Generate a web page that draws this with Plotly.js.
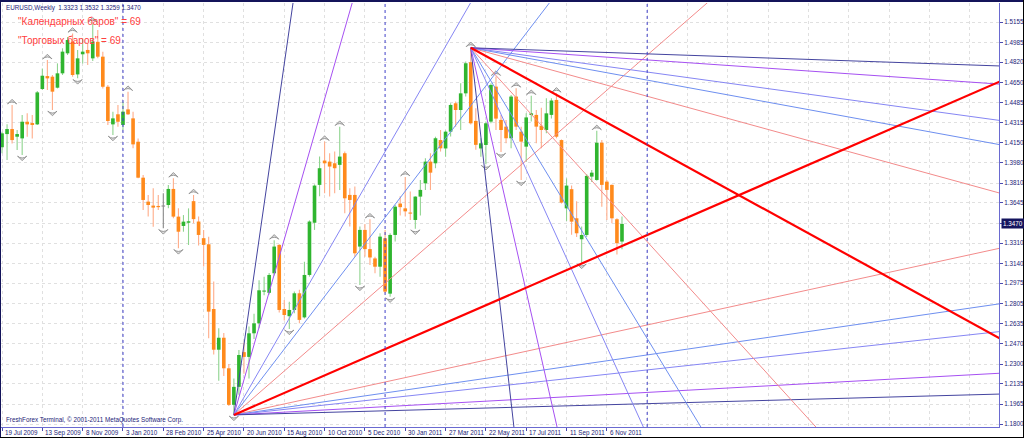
<!DOCTYPE html>
<html><head><meta charset="utf-8">
<script src="https://cdn.plot.ly/plotly-3.0.1.min.js"></script>
<style>html,body{margin:0;padding:0;background:#fff;overflow:hidden}#chart{width:1024px;height:438px}</style>
</head><body><div id="chart"></div>
<script>
// ---- weekly EURUSD candles, bar 0 = week of 19 Jul 2009 ----
const openP = [1.4110,1.4220,1.4262,1.4198,1.4184,1.4323,1.4312,1.4301,1.4596,1.4704,
1.4699,1.4607,1.4727,1.4894,1.4990,1.4718,1.4886,1.4922,1.4852,1.4990,
1.4866,1.4615,1.4301,1.4385,1.4296,1.4426,1.4351,1.4156,1.3856,1.3656,
1.3623,1.3620,1.3615,1.3628,1.3762,1.3531,1.3453,1.3480,1.3660,1.3490,
1.3351,1.3300,1.2760,1.2420,1.2520,1.2265,1.1960,1.2110,1.2400,1.2360,
1.2557,1.2640,1.2905,1.2895,1.3058,1.3295,1.2760,1.2700,1.2752,1.2891,
1.2690,1.3044,1.3480,1.3796,1.3999,1.3990,1.3976,1.3963,1.4060,1.3712,
1.3712,1.3281,1.3420,1.3260,1.3182,1.3113,1.3350,1.2888,1.3378,1.3640,
1.3600,1.3564,1.3503,1.3698,1.3809,1.3990,1.3976,1.4170,1.4100,1.4240,
1.4477,1.4421,1.4560,1.4820,1.4330,1.4100,1.4129,1.4324,1.4616,1.4338,
1.4282,1.4185,1.4533,1.4240,1.4115,1.4380,1.4380,1.4290,1.4254,1.4380,
1.4505,1.4170,1.3600,1.3760,1.3517,1.3342,1.3378,1.3865,1.3837,1.4148,
1.3823,1.3796,1.3509,1.3323];
const highP = [1.4240,1.4301,1.4462,1.4254,1.4379,1.4393,1.4379,1.4579,1.4768,1.4838,
1.4713,1.4810,1.4936,1.5030,1.5060,1.4922,1.5019,1.4977,1.5145,1.5089,
1.4908,1.4629,1.4407,1.4462,1.4490,1.4574,1.4407,1.4184,1.3879,1.3712,
1.3768,1.3712,1.3725,1.3795,1.3851,1.3600,1.3544,1.3600,1.3712,1.3531,
1.3420,1.3364,1.2990,1.2600,1.2560,1.2300,1.2180,1.2418,1.2480,1.2613,
1.2720,1.2999,1.3030,1.3060,1.3333,1.3300,1.2835,1.2821,1.2905,1.2920,
1.3155,1.3500,1.3800,1.4032,1.4157,1.4059,1.4074,1.4282,1.4074,1.3768,
1.3782,1.3448,1.3470,1.3510,1.3197,1.3392,1.3420,1.3392,1.3628,1.3700,
1.3862,1.3740,1.3700,1.3837,1.4018,1.4059,1.4198,1.4254,1.4250,1.4477,
1.4491,1.4644,1.4825,1.4940,1.4435,1.4185,1.4324,1.4644,1.4700,1.4380,
1.4338,1.4547,1.4602,1.4282,1.4393,1.4540,1.4420,1.4440,1.4519,1.4519,
1.4560,1.4175,1.3850,1.3790,1.3660,1.3448,1.3885,1.3920,1.4247,1.4170,
1.3837,1.3800,1.3517,1.3532];
const lowP = [1.4060,1.4003,1.4142,1.4087,1.4046,1.4198,1.4184,1.4296,1.4588,1.4588,
1.4421,1.4601,1.4713,1.4880,1.4699,1.4685,1.4810,1.4796,1.4830,1.4852,
1.4601,1.4296,1.4212,1.4282,1.4254,1.4379,1.4101,1.3851,1.3587,1.3531,
1.3447,1.3587,1.3433,1.3600,1.3517,1.3266,1.3405,1.3294,1.3475,1.3290,
1.3114,1.2516,1.2380,1.2160,1.2200,1.1950,1.1876,1.2045,1.2220,1.2180,
1.2510,1.2600,1.2874,1.2880,1.3040,1.2730,1.2663,1.2594,1.2724,1.2640,
1.2680,1.3030,1.3420,1.3700,1.3726,1.3698,1.3726,1.3754,1.3559,1.3448,
1.3197,1.2961,1.3197,1.3128,1.3058,1.3030,1.2891,1.2863,1.3323,1.3540,
1.3531,1.3503,1.3430,1.3540,1.3754,1.3754,1.3935,1.4074,1.4030,1.4200,
1.4282,1.4254,1.4533,1.4300,1.4090,1.4030,1.3968,1.4310,1.4254,1.4070,
1.4143,1.4101,1.4254,1.3837,1.3990,1.4324,1.4143,1.4101,1.4226,1.4350,
1.4185,1.3640,1.3495,1.3380,1.3360,1.3145,1.3360,1.3820,1.3830,1.3614,
1.3503,1.3475,1.3215,1.3259];
const closeP = [1.4226,1.4262,1.4170,1.4220,1.4323,1.4301,1.4296,1.4568,1.4707,1.4685,
1.4574,1.4727,1.4908,1.5005,1.4713,1.4852,1.4908,1.4894,1.4991,1.4866,
1.4615,1.4329,1.4351,1.4323,1.4407,1.4385,1.4134,1.3856,1.3670,1.3628,
1.3606,1.3610,1.3615,1.3762,1.3531,1.3405,1.3489,1.3492,1.3510,1.3378,
1.3295,1.2738,1.2420,1.2520,1.2265,1.1960,1.2110,1.2376,1.2360,1.2557,
1.2640,1.2916,1.2912,1.3044,1.3281,1.2752,1.2710,1.2752,1.2891,1.2669,
1.3044,1.3490,1.3790,1.3935,1.3976,1.3949,1.3935,1.4032,1.3684,1.3670,
1.3225,1.3420,1.3260,1.3190,1.3113,1.3364,1.2905,1.3378,1.3614,1.3610,
1.3575,1.3556,1.3698,1.3754,1.3990,1.3898,1.4185,1.4101,1.4240,1.4463,
1.4421,1.4560,1.4811,1.4310,1.4130,1.4143,1.4310,1.4630,1.4349,1.4254,
1.4185,1.4533,1.4282,1.4157,1.4359,1.4393,1.4282,1.4254,1.4393,1.4500,
1.4198,1.3648,1.3790,1.3489,1.3392,1.3378,1.3871,1.3898,1.4148,1.3796,
1.3754,1.3517,1.3309,1.3470];

// ---- axis labels ----
const timeTickBars = [0,8,16,24,32,40,48,56,64,72,80,88,96,104,112,120];
const timeTickLabels = ['19 Jul 2009','13 Sep 2009','8 Nov 2009','3 Jan 2010','28 Feb 2010','25 Apr 2010',
 '20 Jun 2010','15 Aug 2010','10 Oct 2010','5 Dec 2010','30 Jan 2011','27 Mar 2011','22 May 2011',
 '17 Jul 2011','11 Sep 2011','6 Nov 2011'];
const emptyGridBars = [128,136,144,152,160,168,176,184,192];
const priceTickVals = [1.1800,1.1965,1.2135,1.2300,1.2470,1.2635,1.2805,1.2975,1.3140,1.3310,1.3475,
 1.3645,1.3810,1.3980,1.4150,1.4315,1.4485,1.4650,1.4820,1.4985,1.5155];
const priceTickText = ['1.1800','1.1965','1.2135','1.2300','1.2470','1.2635','1.2805','1.2975','1.3140','1.3310','',
 '1.3645','1.3810','1.3980','1.4150','1.4315','1.4485','1.4650','1.4820','1.4985','1.5155'];

// ---- Bill Williams fractals ----
const fractalUpBars = [2,9,14,18,25,34,38,54,64,67,73,80,93,98,102,105,110,118];
const fractalDownBars = [4,10,15,22,32,35,46,57,71,77,82,96,99,103,115];

// ---- vertical separators ----
const separatorBars = [24,76,128];

// ---- Gann fans ----
const fanRatios = [16,8,4,3,2,1,1/2,1/3,1/4,1/8,1/16];
const fanColors = ['#44449f','#a650f2','#8686f4','#6e8ff0','#f38b8b','#ff0000','#f38b8b','#6e8ff0','#8686f4','#a650f2','#44449f'];
const fanWidths = [1,1,1,1,1,2.2,1,1,1,1,1];
const lowFanOrigin = [46, 1.1876];
const lowFanUnit = 0.001831;     // price per bar on the 1x1 line
const peakFanOrigin = [93, 1.4940];
const peakFanUnit = -0.002311;

const textLines = ['"Календарных баров" = 69', '"Торговых баров" = 69'];
const symbolTitle = 'EURUSD,Weekly';
const copyright = 'FreshForex Terminal, © 2001-2011 MetaQuotes Software Corp.';

// ================= build =================
const N = openP.length;
const idx = openP.map((_, i) => i);
const SMALL = 'Liberation Sans, Arial, sans-serif';
const SMALL_SIZE = 6.3;
const NAVY = '#1c1c78';
const GRID = '#e0e0e0';

const bullBody = '#2fb52f', bearBody = '#ff8a1c', dojiCol = '#8a8a8a';
const bullWick = '#8fd48f', bearWick = '#ffad8a';
const dirOf = i => closeP[i] > openP[i] ? 1 : (closeP[i] < openP[i] ? -1 : 0);

const traces = [];
traces.push({
  type: 'bar', x: idx, base: lowP, y: idx.map(i => highP[i] - lowP[i]), width: 0.22,
  marker: {color: idx.map(i => dirOf(i) > 0 ? bullWick : dirOf(i) < 0 ? bearWick : dojiCol), line: {width: 0}},
  hoverinfo: 'skip', showlegend: false
});
traces.push({
  type: 'bar', x: idx, base: idx.map(i => Math.min(openP[i], closeP[i])),
  y: idx.map(i => Math.max(Math.abs(closeP[i] - openP[i]), 0.0009)), width: 0.72,
  marker: {color: idx.map(i => dirOf(i) > 0 ? bullBody : dirOf(i) < 0 ? bearBody : dojiCol), line: {width: 0}},
  hoverinfo: 'skip', showlegend: false
});

// fractal arrows (arrowhead glyphs)
const FOFF = 0.0048;
traces.push({type: 'scatter', mode: 'markers', x: fractalUpBars, y: fractalUpBars.map(i => highP[i] + FOFF),
  marker: {symbol: 'arrow-wide', angle: 0, size: 6.5, color: '#dcdcdc', line: {color: '#8e8e8e', width: 0.9}},
  hoverinfo: 'skip', showlegend: false, cliponaxis: false});
traces.push({type: 'scatter', mode: 'markers', x: fractalDownBars, y: fractalDownBars.map(i => lowP[i] - FOFF),
  marker: {symbol: 'arrow-wide', angle: 180, size: 6.5, color: '#dcdcdc', line: {color: '#8e8e8e', width: 0.9}},
  hoverinfo: 'skip', showlegend: false, cliponaxis: false});

// gann fans (thin lines first, 1x1 on top)
const REACH = 400;
function addFan(origin, unit, thick) {
  fanRatios.forEach((r, k) => {
    if ((fanWidths[k] > 1.5) !== thick) return;
    traces.push({type: 'scatter', mode: 'lines', x: [origin[0], origin[0] + REACH],
      y: [origin[1], origin[1] + unit * r * REACH],
      line: {color: fanColors[k], width: fanWidths[k]}, hoverinfo: 'skip', showlegend: false});
  });
}
addFan(lowFanOrigin, lowFanUnit, false);
addFan(peakFanOrigin, peakFanUnit, false);
addFan(lowFanOrigin, lowFanUnit, true);
addFan(peakFanOrigin, peakFanUnit, true);

// geometry helpers for paper coords
const PLOT_L = 0, PLOT_R = 999, PLOT_T = 3, PLOT_B = 427;
const px2paperX = px => (px - PLOT_L) / (PLOT_R - PLOT_L);
const py2paperY = py => (PLOT_B - py) / (PLOT_B - PLOT_T);

const shapes = separatorBars.map(b => ({type: 'line', xref: 'x', yref: 'paper', x0: b, x1: b, y0: 0, y1: 1,
  line: {color: '#4040c8', width: 1, dash: 'dot'}, layer: 'above'}));
shapes.push({type: 'line', xref: 'paper', yref: 'paper', x0: px2paperX(0), x1: px2paperX(1024), y0: py2paperY(1), y1: py2paperY(1),
  line: {color: '#14145a', width: 2}});
shapes.push({type: 'line', xref: 'paper', yref: 'paper', x0: px2paperX(0.5), x1: px2paperX(0.5), y0: py2paperY(1), y1: py2paperY(438),
  line: {color: '#14145a', width: 1}});
shapes.push({type: 'line', xref: 'paper', yref: 'paper', x0: px2paperX(0), x1: px2paperX(1024), y0: py2paperY(437.5), y1: py2paperY(437.5),
  line: {color: '#000000', width: 1}});
shapes.push({type: 'line', xref: 'paper', yref: 'paper', x0: px2paperX(1023.5), x1: px2paperX(1023.5), y0: py2paperY(0), y1: py2paperY(438),
  line: {color: '#000000', width: 1}});

const last = N - 1;
const f4 = v => v.toFixed(4);
const annotations = [
  {xref: 'paper', yref: 'paper', x: px2paperX(4), y: py2paperY(8), xanchor: 'left', yanchor: 'middle', showarrow: false,
   text: symbolTitle + '  ' + [openP[last], highP[last], lowP[last], closeP[last]].map(f4).join(' '),
   font: {family: SMALL, size: SMALL_SIZE, color: NAVY}},
  {xref: 'paper', yref: 'paper', x: px2paperX(16), y: py2paperY(22), xanchor: 'left', yanchor: 'middle', showarrow: false,
   text: textLines[0], font: {family: 'Liberation Sans, Arial, sans-serif', size: 10, color: '#ff4040'}},
  {xref: 'paper', yref: 'paper', x: px2paperX(16), y: py2paperY(40), xanchor: 'left', yanchor: 'middle', showarrow: false,
   text: textLines[1], font: {family: 'Liberation Sans, Arial, sans-serif', size: 10, color: '#ff4040'}},
  {xref: 'paper', yref: 'paper', x: px2paperX(4), y: py2paperY(420), xanchor: 'left', yanchor: 'middle', showarrow: false,
   text: copyright, font: {family: SMALL, size: SMALL_SIZE, color: NAVY}},
  {xref: 'paper', yref: 'y', x: px2paperX(1001), y: closeP[last], xanchor: 'left', yanchor: 'middle', showarrow: false,
   text: f4(closeP[last]), bgcolor: '#14145e', borderpad: 1, font: {family: SMALL, size: SMALL_SIZE, color: '#ffffff'}}
];
// time labels, left-aligned at their ticks as in the terminal
timeTickBars.forEach((b, k) => annotations.push({
  xref: 'x', yref: 'paper', x: b, y: py2paperY(432.5), xanchor: 'left', yanchor: 'middle', xshift: 1, showarrow: false,
  text: timeTickLabels[k], font: {family: SMALL, size: SMALL_SIZE, color: NAVY}
}));

const layout = {
  width: 1024, height: 438,
  margin: {l: PLOT_L, r: 1024 - PLOT_R, t: PLOT_T, b: 438 - PLOT_B, pad: 0},
  paper_bgcolor: '#ffffff', plot_bgcolor: '#ffffff',
  barmode: 'overlay', showlegend: false,
  xaxis: {
    range: [-0.4, 197.8], tickmode: 'array', tickvals: timeTickBars, ticktext: timeTickBars.map(() => ''),
    ticks: 'outside', ticklen: 3, tickcolor: '#4a4ab0', showline: true, linecolor: '#6a6ad0', linewidth: 1,
    showgrid: true, gridcolor: GRID, griddash: 'dot', gridwidth: 1, zeroline: false,
    showticklabels: false, automargin: false, fixedrange: true,
    minor: {tickmode: 'array', tickvals: emptyGridBars, showgrid: true, gridcolor: GRID, griddash: 'dot', ticks: ''}
  },
  yaxis: {
    side: 'right', range: [1.1775, 1.5314], tickmode: 'array', tickvals: priceTickVals, ticktext: priceTickText,
    ticks: 'outside', ticklen: 3, tickcolor: '#4a4ab0', showline: true, linecolor: '#6a6ad0', linewidth: 1,
    showgrid: true, gridcolor: GRID, griddash: 'dot', gridwidth: 1, zeroline: false,
    tickfont: {family: SMALL, size: SMALL_SIZE, color: NAVY}, automargin: false, fixedrange: true
  },
  shapes: shapes, annotations: annotations
};

Plotly.newPlot('chart', traces, layout, {staticPlot: true, displayModeBar: false});
</script></body></html>
